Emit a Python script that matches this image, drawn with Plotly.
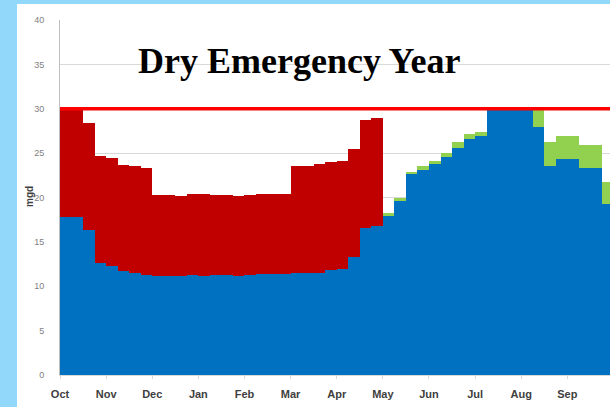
import plotly.graph_objects as go
import numpy as np

months = ["Oct", "Nov", "Dec", "Jan", "Feb", "Mar", "Apr", "May", "Jun", "Jul", "Aug", "Sep"]
weeks_per_month = 4

# blue base (mgd), one value per quarter-month step
blue = [17.8, 17.8, 16.3, 12.6, 12.3, 11.7, 11.5, 11.3, 11.2, 11.2,
        11.2, 11.3, 11.2, 11.3, 11.3, 11.2, 11.3, 11.4, 11.4, 11.4,
        11.5, 11.5, 11.5, 11.8, 11.9, 13.3, 16.6, 16.8, 17.9, 19.6,
        22.6, 23.1, 23.8, 24.6, 25.6, 26.6, 26.9, 30.0, 30.0, 30.0,
        30.0, 27.9, 23.5, 24.3, 24.3, 23.3, 23.3, 19.3]

# top of the red band (Oct - Apr)
red_top = [30.0, 30.0, 28.4, 24.7, 24.4, 23.7, 23.5, 23.3, 20.3, 20.3,
           20.2, 20.4, 20.4, 20.3, 20.3, 20.2, 20.3, 20.4, 20.4, 20.4,
           23.5, 23.6, 23.8, 24.0, 24.1, 25.5, 28.7, 29.0]

# top of the green band (May - Sep)
green_top = [18.2, 19.9, 22.9, 23.5, 24.1, 25.0, 26.2, 27.1, 27.4, 30.0,
             30.0, 30.0, 30.0, 30.0, 26.2, 26.9, 26.9, 25.9, 25.9, 21.8]

limit = 30

n = len(blue)
blue_a = np.array(blue)
red = np.zeros(n)
red[:len(red_top)] = np.array(red_top) - blue_a[:len(red_top)]
green = np.zeros(n)
green[n - len(green_top):] = np.array(green_top) - blue_a[n - len(green_top):]
red = np.clip(red, 0, None)
green = np.clip(green, 0, None)

x = np.arange(n) + 0.5

fig = go.Figure()
common = dict(x=x, width=1.0, marker_line_width=0, showlegend=False, hoverinfo="skip")
fig.add_trace(go.Bar(y=blue, marker_color="#0070C0", **common))
fig.add_trace(go.Bar(y=red, marker_color="#C00000", **common))
fig.add_trace(go.Bar(y=green, marker_color="#92D050", **common))

fig.add_hline(y=limit, line_color="#FF0000", line_width=3.5, layer="above")

W, H = 610, 407
ml, mr, mt, mb = 60, 0, 20, 32
pw, ph = W - ml - mr, H - mt - mb

def px(xp):
    return (xp - ml) / pw

def py(yp):
    return (H - mb - yp) / ph

# light blue frame (left strip and top strip)
fig.add_shape(type="rect", xref="paper", yref="paper",
              x0=px(0), x1=px(17), y0=py(H), y1=py(0),
              fillcolor="#92D8FB", line_width=0, layer="below")
fig.add_shape(type="rect", xref="paper", yref="paper",
              x0=px(17), x1=px(W), y0=py(4), y1=py(0),
              fillcolor="#92D8FB", line_width=0, layer="below")

fig.add_annotation(text="<b>Dry Emergency Year</b>", xref="paper", yref="paper",
                   x=px(299), y=py(61), xanchor="center", yanchor="middle",
                   showarrow=False,
                   font=dict(family="Liberation Serif", size=36, color="#000000"))

fig.add_annotation(text="<b>mgd</b>", xref="paper", yref="paper",
                   x=px(29), y=py(197), xanchor="center", yanchor="middle",
                   textangle=-90, showarrow=False,
                   font=dict(family="Liberation Sans", size=10, color="#404040"))

fig.update_layout(
    width=W, height=H, autosize=False,
    margin=dict(l=ml, r=mr, t=mt, b=mb, pad=0),
    barmode="stack", bargap=0,
    paper_bgcolor="#FFFFFF", plot_bgcolor="#FFFFFF",
    xaxis=dict(range=[0, 47.7], tickmode="array",
               tickvals=[i * weeks_per_month for i in range(len(months))],
               ticktext=months, showgrid=False, zeroline=False,
               showline=True, linecolor="#D9D9D9", linewidth=1,
               ticks="outside", ticklen=3, tickcolor="#D9D9D9",
               ticklabelstandoff=6,
               tickfont=dict(family="Liberation Sans", size=11, color="#404040", weight="bold")),
    yaxis=dict(range=[0, 40], dtick=5, showgrid=True, gridcolor="#D9D9D9", gridwidth=1,
               zeroline=False, showline=True, linecolor="#BFBFBF", linewidth=1,
               ticks="", ticklabelstandoff=13,
               tickfont=dict(family="Liberation Sans", size=9, color="#7F7F7F")),
)

fig.write_html("out.html")
